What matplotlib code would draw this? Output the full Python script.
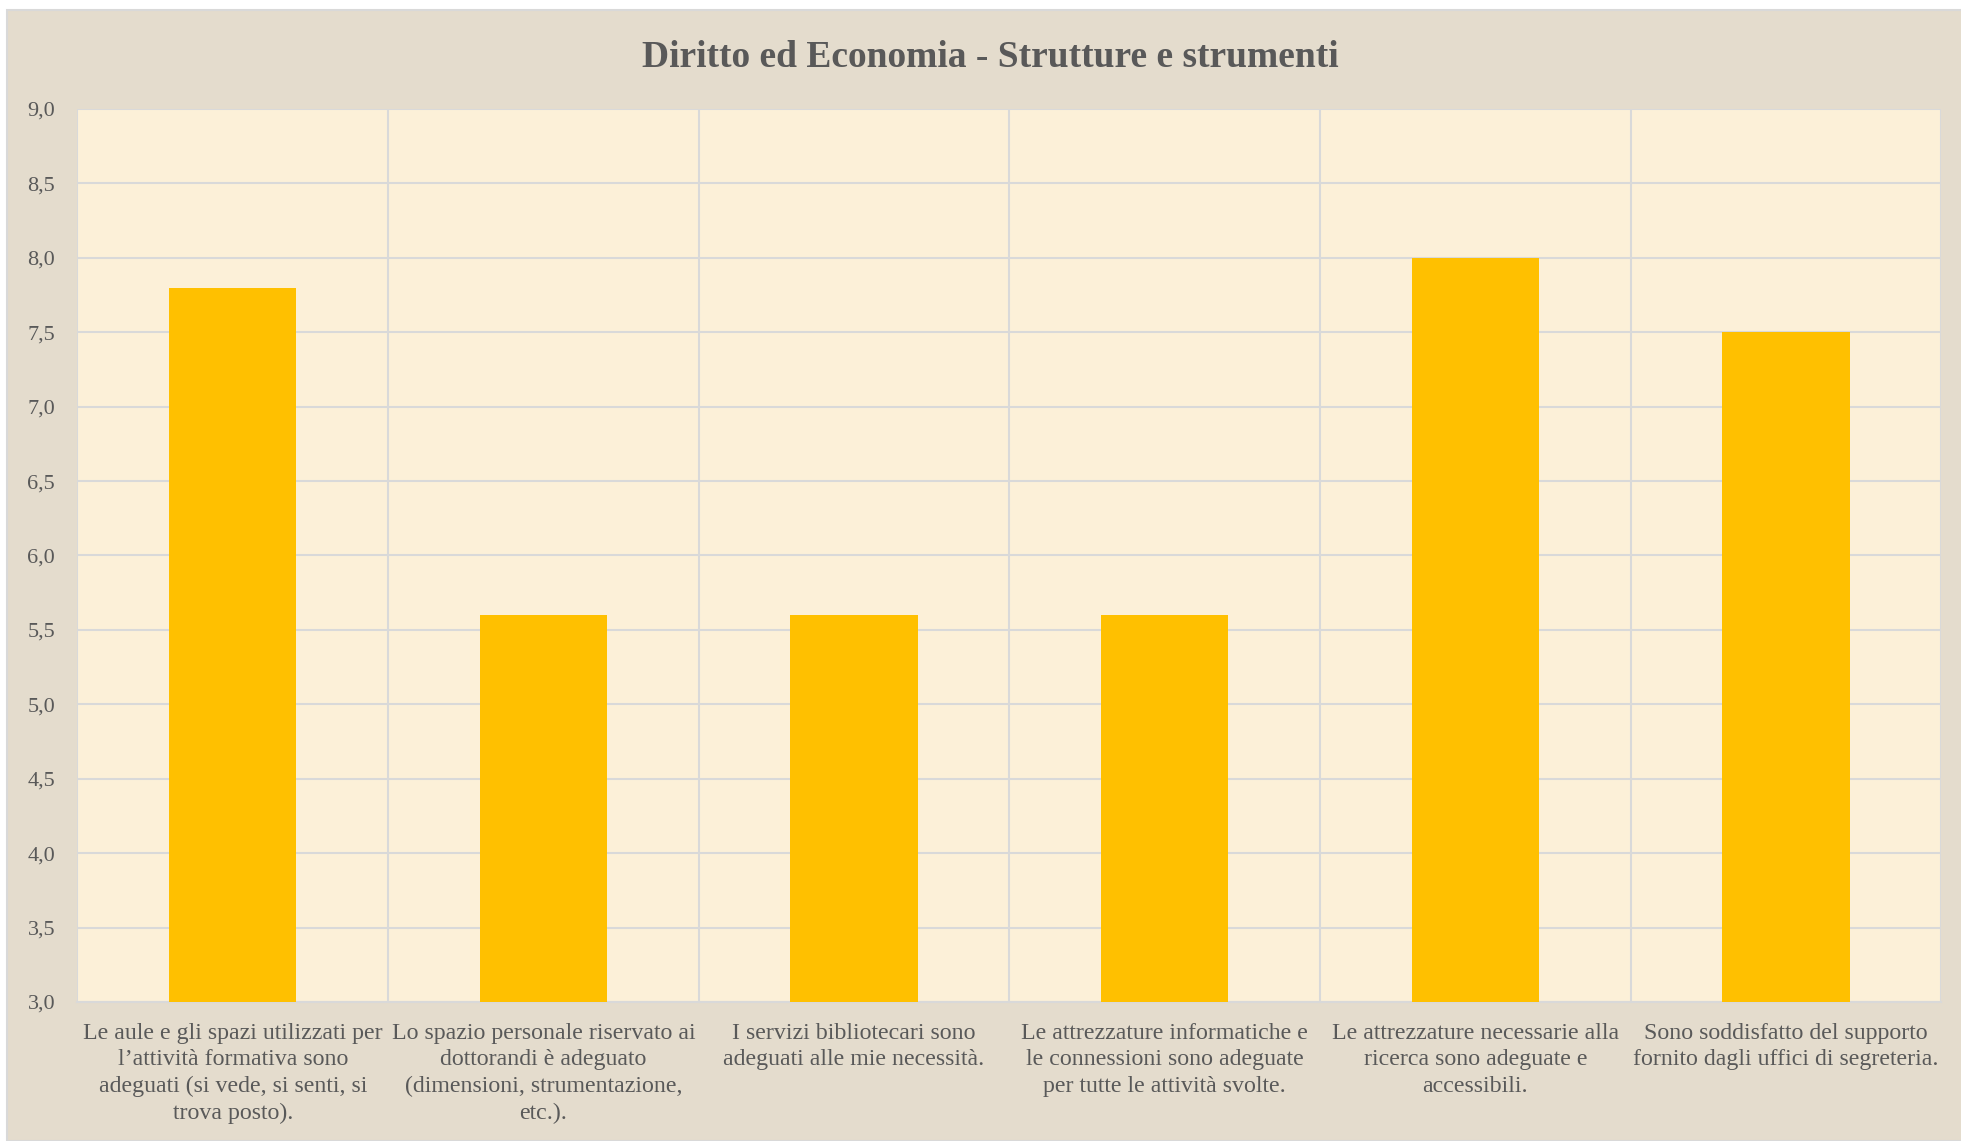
import matplotlib.pyplot as plt
from matplotlib.patches import Rectangle
from matplotlib.ticker import FuncFormatter, MultipleLocator

categories = [
    "Le aule e gli spazi utilizzati per\nl\u2019attività formativa sono\nadeguati (si vede, si senti, si\ntrova posto).",
    "Lo spazio personale riservato ai\ndottorandi è adeguato\n(dimensioni, strumentazione,\netc.).",
    "I servizi bibliotecari sono\nadeguati alle mie necessità.",
    "Le attrezzature informatiche e\nle connessioni sono adeguate\nper tutte le attività svolte.",
    "Le attrezzature necessarie alla\nricerca sono adeguate e\naccessibili.",
    "Sono soddisfatto del supporto\nfornito dagli uffici di segreteria.",
]
values = [7.8, 5.6, 5.6, 5.6, 8.0, 7.5]
title = "Diritto ed Economia - Strutture e strumenti"

text_color = "#595959"
plt.rcParams['font.family'] = ['Liberation Serif', 'DejaVu Serif']

fig = plt.figure(figsize=(19.61, 11.41), dpi=100)
fig.patch.set_facecolor("white")
# outer chart area
bg = Rectangle((7 / 1961, 0), 1, 1 - 10 / 1141, transform=fig.transFigure,
               facecolor="#E4DCCD", edgecolor="#D9D9D9", linewidth=1.5, zorder=-10)
fig.patches.append(bg)

ax = fig.add_axes([0.0395, 0.1218, 0.9505, 0.7827])
ax.set_facecolor("#FCF0D8")

x = range(len(categories))
ax.bar(x, values, width=0.41, color="#FFC000", zorder=3)

ax.set_xlim(-0.5, len(categories) - 0.5)
ax.set_ylim(3.0, 9.0)
ax.yaxis.set_major_locator(MultipleLocator(0.5))
ax.yaxis.set_major_formatter(FuncFormatter(lambda v, p: f"{v:.1f}".replace(".", ",")))

ax.set_xticks(list(x))
ax.set_xticklabels(categories, fontsize=17.2, color=text_color, linespacing=1.34)
ax.set_xticks([i + 0.5 for i in range(-1, len(categories))], minor=True)
ax.tick_params(axis="x", which="both", length=0, pad=15)
ax.tick_params(axis="y", length=0, pad=16, labelsize=16, labelcolor=text_color)

ax.grid(axis="y", color="#D9D9D9", linewidth=1.5, zorder=1)
ax.grid(axis="x", which="minor", color="#D9D9D9", linewidth=1.5, zorder=1)
ax.grid(axis="x", which="major", visible=False)
for s in ax.spines.values():
    s.set_visible(False)
ax.spines["bottom"].set_visible(True)
ax.spines["bottom"].set_color("#D9D9D9")
ax.spines["bottom"].set_linewidth(1.5)

fig.text(0.505, 0.950, title, ha="center", va="center", fontsize=27,
         fontweight="bold", color=text_color)

fig.savefig("out.png", dpi=100)
